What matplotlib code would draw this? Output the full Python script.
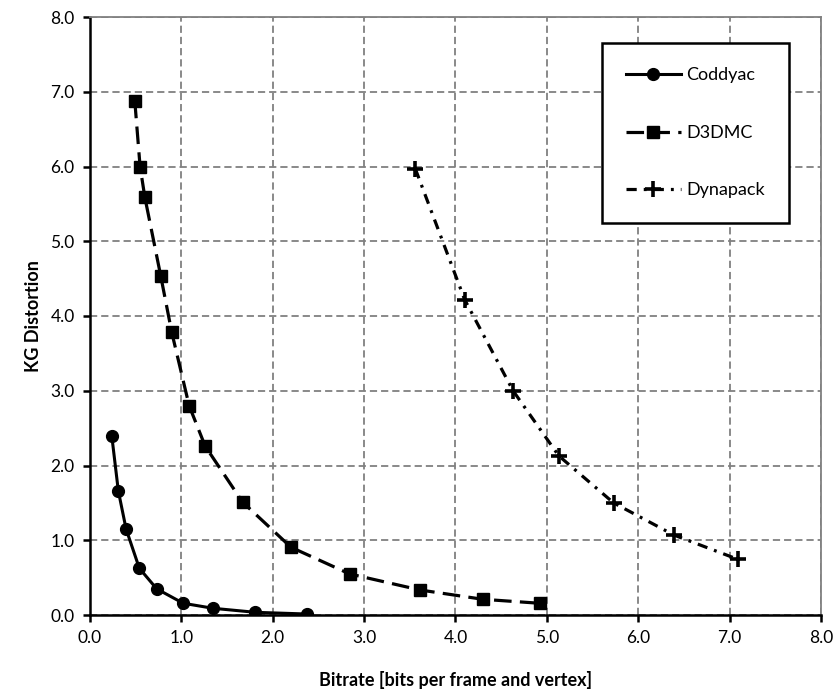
import matplotlib
matplotlib.use("Agg")
import matplotlib.pyplot as plt

plt.rcParams['font.family'] = ['Lato', 'DejaVu Sans']

coddyac_x = [0.238, 0.31, 0.395, 0.54, 0.73, 1.02, 1.345, 1.81, 2.375]
coddyac_y = [2.40, 1.66, 1.15, 0.625, 0.35, 0.157, 0.09, 0.036, 0.013]

d3dmc_x = [0.49, 0.548, 0.60, 0.775, 0.895, 1.085, 1.26, 1.67, 2.20, 2.84, 3.61, 4.30, 4.92]
d3dmc_y = [6.88, 6.00, 5.59, 4.53, 3.78, 2.80, 2.26, 1.51, 0.906, 0.55, 0.335, 0.21, 0.157]

dyna_x = [3.56, 4.10, 4.63, 5.13, 5.73, 6.39, 7.09]
dyna_y = [5.97, 4.22, 3.00, 2.13, 1.50, 1.07, 0.745]

xticks = [0, 1, 2, 3, 4, 5, 6, 7, 8]
yticks = [0, 1, 2, 3, 4, 5, 6, 7, 8]

fig = plt.figure(figsize=(8.37, 7.0), dpi=100)
ax = fig.add_axes([90/837, 1-615/700, (821-90)/837, (615-17)/700])

ax.plot(coddyac_x, coddyac_y, color='black', lw=2.2, marker='o', ms=8.5,
        label='Coddyac', zorder=3)
ax.plot(d3dmc_x, d3dmc_y, color='black', lw=2.3, marker='s', ms=8.5,
        linestyle=(0, (5.5, 2.6)), label='D3DMC', zorder=3)
ax.plot(dyna_x, dyna_y, color='black', lw=2.3, marker='+', ms=11, mew=2.6,
        linestyle=(0, (3.2, 2.2, 0.9, 2.2)), label='Dynapack', zorder=3)

ax.set_xlim(0, 8)
ax.set_ylim(0, 8)
ax.set_xticks(xticks)
ax.set_yticks(yticks)
ax.set_xticklabels([f"{v:.1f}" for v in xticks])
ax.set_yticklabels([f"{v:.1f}" for v in yticks])
ax.tick_params(axis='both', labelsize=12.5, length=5, width=1.8, direction='out',
               colors='black', pad=6)

ax.grid(True, color='#808080', lw=1.3, linestyle=(0, (4.0, 2.2)))
ax.set_axisbelow(True)

for s in ['left', 'bottom']:
    ax.spines[s].set_color('black')
    ax.spines[s].set_linewidth(1.8)
for s in ['top', 'right']:
    ax.spines[s].set_color('#808080')
    ax.spines[s].set_linewidth(1.3)

ax.set_xlabel('Bitrate [bits per frame and vertex]', fontsize=13,
              fontweight='bold', labelpad=18)
ax.set_ylabel('KG Distortion', fontsize=13, fontweight='bold', labelpad=6)

leg = ax.legend(loc='upper left', bbox_to_anchor=((602-90)/731, 1-(43-17)/598),
                fontsize=13, handlelength=3.0, labelspacing=2.3,
                borderpad=1.35, handletextpad=0.3, borderaxespad=0,
                fancybox=False, framealpha=1, edgecolor='black')
leg.get_frame().set_linewidth(1.8)

fig.savefig('out.png', dpi=100, facecolor='white')
